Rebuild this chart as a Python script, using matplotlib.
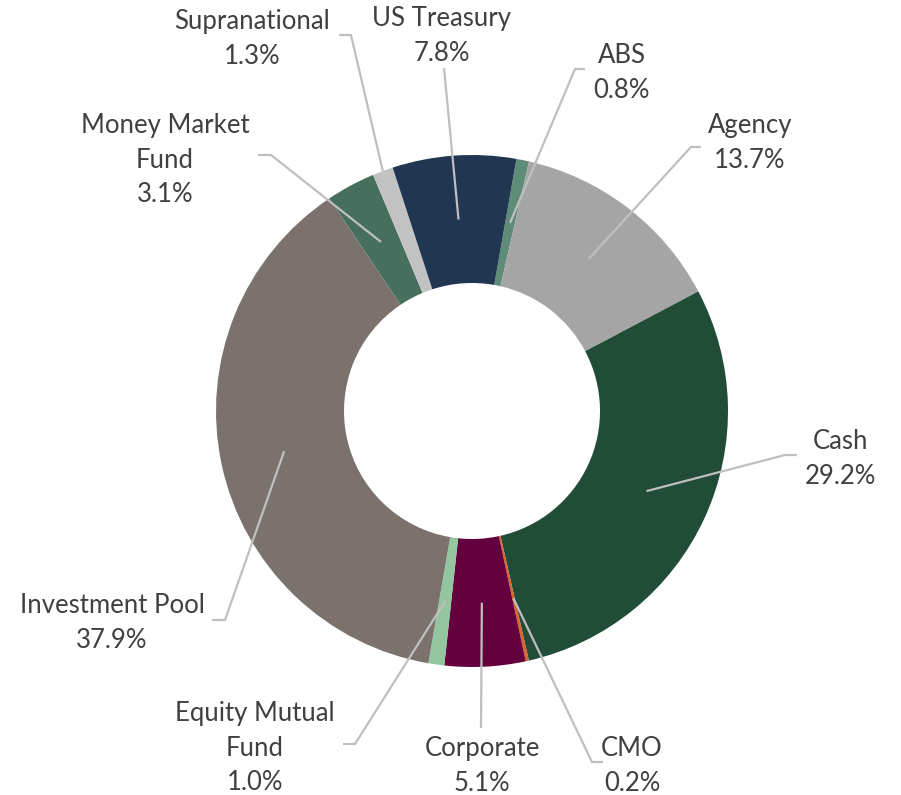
import numpy as np
import matplotlib
matplotlib.use("Agg")
import matplotlib.pyplot as plt

# portfolio allocation (percent)
names = ["ABS", "Agency", "Cash", "CMO", "Corporate", "Equity Mutual\nFund",
         "Investment Pool", "Money Market\nFund", "Supranational", "US Treasury"]
values = [0.8, 13.7, 29.2, 0.2, 5.1, 1.0, 37.9, 3.1, 1.3, 7.8]
colors = ["#5e8c78", "#a5a5a5", "#214d38", "#d9652b", "#65003f",
          "#93c69f", "#7b726e", "#46705d", "#c2c2c2", "#203651"]

W, H = 901, 795
def Y(y):
    return H - y

# label layout in pixel coords: text center, hook points, leader radius factor
layout = {
    "ABS": ((622, 73), [(585, 69), (575, 69)], 0.75),
    "Agency": ((750, 143), [(701, 147), (691, 147)], 0.75),
    "Cash": ((840, 459), [(797, 455), (785, 455)], 0.75),
    "CMO": ((632, 766), [(603, 762), (592, 762)], 0.75),
    "Corporate": ((482, 766), [(481, 728)], 0.75),
    "Equity Mutual\nFund": ((255, 748), [(343, 744), (355, 744)], 0.75),
    "Investment Pool": ((112, 623), [(212, 620), (225, 620)], 0.75),
    "Money Market\nFund": ((165, 160), [(258, 155), (271, 155)], 0.75),
    "Supranational": ((252, 39), [(339, 35), (351, 35)], 1.0),
    "US Treasury": ((442, 36), [(444, 68)], 0.75),
}

fig = plt.figure(figsize=(W / 100, H / 100), dpi=100)
ax = fig.add_axes([0, 0, 1, 1])
cx, cy, R = 472, Y(411), 256

wedges, _ = ax.pie(values, colors=colors, startangle=80, counterclock=False,
                   center=(cx, cy), radius=R,
                   wedgeprops=dict(width=128, linewidth=0))

for w, name, v in zip(wedges, names, values):
    (tx, ty), hook, rf = layout[name]
    mid = np.deg2rad((w.theta1 + w.theta2) / 2)
    ex = cx + rf * R * np.cos(mid)
    ey = cy + rf * R * np.sin(mid)
    xs = [p[0] for p in hook] + [ex]
    ys = [Y(p[1]) for p in hook] + [ey]
    ax.plot(xs, ys, color="#bfbfbf", lw=1.6, solid_capstyle="butt", zorder=3)
    ax.text(tx, Y(ty), f"{name}\n{v:.1f}%", ha="center", va="center",
            fontsize=18.5, color="#404040", linespacing=1.48,
            family=["Lato", "DejaVu Sans"])

ax.set_xlim(0, W)
ax.set_ylim(0, H)
ax.set_aspect("equal")
ax.axis("off")
fig.savefig("out.png", dpi=100)
